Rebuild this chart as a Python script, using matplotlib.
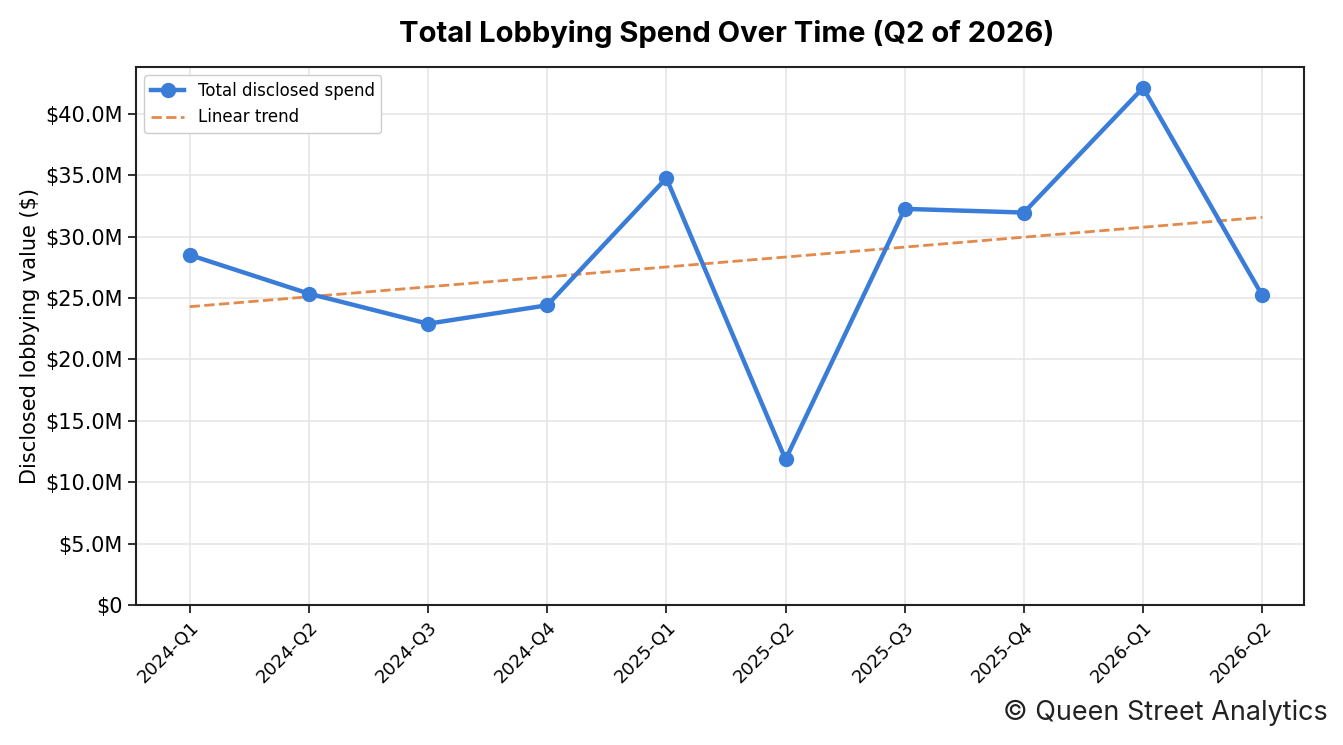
import numpy as np
import matplotlib.pyplot as plt
from matplotlib.ticker import FuncFormatter

plt.rcParams['font.family'] = 'DejaVu Sans'

# quarterly totals, in millions of dollars
quarters = ['2024-Q1', '2024-Q2', '2024-Q3', '2024-Q4', '2025-Q1',
            '2025-Q2', '2025-Q3', '2025-Q4', '2026-Q1', '2026-Q2']
spend_m = [28.5, 25.35, 22.9, 24.4, 34.75, 11.85, 32.25, 31.95, 42.1, 25.2]

x = np.arange(len(quarters))
y = np.array(spend_m) * 1e6

# linear trend fitted to the spend values
slope, intercept = np.polyfit(x, y, 1)
trend = slope * x + intercept

fig = plt.figure(figsize=(13.43, 7.45), dpi=100)
ax = fig.add_axes([136 / 1343, 1 - 605 / 745, (1304 - 136) / 1343, (605 - 67) / 745])

ax.plot(x, y, color='#3a7dd9', linewidth=3.2, marker='o', markersize=10,
        label='Total disclosed spend', zorder=3)
ax.plot(x, trend, color='#e3894b', linewidth=2, linestyle='--',
        label='Linear trend', zorder=2)

ax.set_xlim(-0.45, 9.35)
ax.set_ylim(0, 43.8e6)
ax.set_xticks(x)
ax.set_xticklabels(quarters, rotation=45, ha='right', rotation_mode='anchor', fontsize=13)
ax.yaxis.set_major_locator(plt.MultipleLocator(5e6))
ax.yaxis.set_major_formatter(FuncFormatter(lambda v, p: '$0' if v == 0 else f'${v/1e6:.1f}M'))
ax.tick_params(axis='y', labelsize=15)
ax.tick_params(length=6, width=1.3, color='#222222')
ax.set_ylabel('Disclosed lobbying value ($)', fontsize=15)

ax.grid(True, color='#e6e6e6', linewidth=1.2)
ax.set_axisbelow(True)
for s in ax.spines.values():
    s.set_color('#222222')
    s.set_linewidth(1.5)

ax.legend(loc='upper left', fontsize=12, framealpha=1, edgecolor='#cccccc')

fig.text(727 / 1343, 1 - 34 / 745, 'Total Lobbying Spend Over Time (Q2 of 2026)',
         ha='center', va='center', fontsize=21, fontweight='bold', family='Inter')
fig.text(1328 / 1343, 1 - 713 / 745, '© Queen Street Analytics',
         ha='right', va='center', fontsize=19.4, family='Inter', color='#222222')

fig.savefig('out.png', dpi=100)
